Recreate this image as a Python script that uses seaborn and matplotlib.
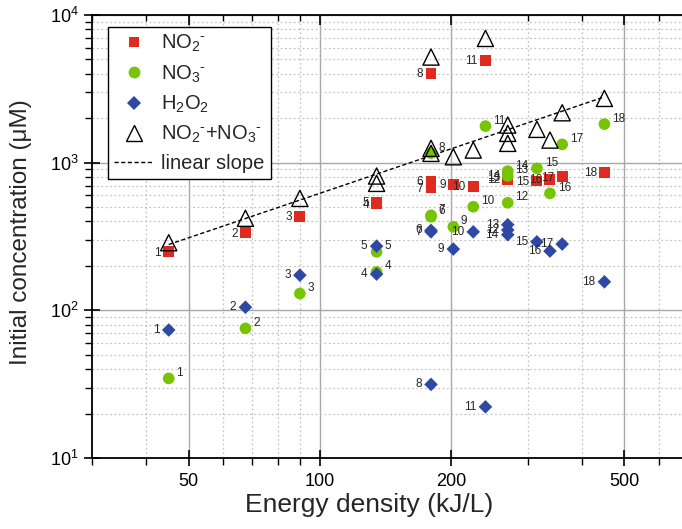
import numpy as np
import pandas as pd
import matplotlib
matplotlib.use("Agg")
import matplotlib.pyplot as plt
import matplotlib.ticker as mticker
from matplotlib.lines import Line2D
import seaborn as sns

# ---------------- data ----------------
sample_id = list(range(1, 19))
energy = [45, 67.5, 90, 135, 135, 180, 180, 180, 202.5, 225, 240, 270, 270, 270, 315, 337.5, 360, 450]
no2 = [249, 335, 435, 525, 540, 747, 680, 4040, 713, 694, 4950, 774, 800, 824, 751, 771, 803, 860]
no3 = [34.6, 75.5, 130, 182, 249, 430, 440, 1160, 368, 503, 1769, 535, 812, 877, 915, 620, 1330, 1825]
h2o2 = [73.6, 105, 173, 176, 272, 348, 340, 31.5, 260, 340, 22.2, 350, 380, 325, 291, 252, 281, 156]
total = [287, 420, 573, 724, 812, 1250, 1156, 5190, 1096, 1217, 6940, 1351, 1579, 1797, 1681, 1422, 2177, 2724]
slope_k = 6.2  # linear slope y = k * x

series_names = [r"NO$_2{}^{\text{-}}$", r"NO$_3{}^{\text{-}}$", r"H$_2$O$_2$",
                r"NO$_2{}^{\text{-}}$+NO$_3{}^{\text{-}}$"]
slope_name = "linear slope"

df = pd.DataFrame({"id": sample_id, "energy": energy, "no2": no2, "no3": no3,
                   "h2o2": h2o2, "total": total})

# ---------------- style ----------------
sns.set_theme(style="ticks")
plt.rcParams["font.family"] = ["Liberation Sans", "DejaVu Sans"]
plt.rcParams["mathtext.fontset"] = "custom"
plt.rcParams["mathtext.rm"] = "Liberation Sans"
plt.rcParams["mathtext.it"] = "Liberation Sans:italic"
plt.rcParams["mathtext.bf"] = "Liberation Sans:bold"
plt.rcParams["axes.linewidth"] = 1.2

RED = "#de2a1f"
GREEN = "#76c402"
BLUE = "#2e48a4"

fig = plt.figure(figsize=(6.82, 5.29), dpi=100)
ax = fig.add_axes([92 / 682, 71 / 529, 596 / 682, 443 / 529])
ax.set_xscale("log")
ax.set_yscale("log")

# slope line
xs = np.array([min(energy), max(energy)])
sns.lineplot(x=xs, y=slope_k * xs, ax=ax, color="black", lw=1.0,
             dashes=False, zorder=2, legend=False)
ax.lines[-1].set_dashes((3, 1.8))

sns.scatterplot(data=df, x="energy", y="no2", ax=ax, marker="s", color=RED,
                s=62, edgecolor="none", zorder=3, legend=False)
sns.scatterplot(data=df, x="energy", y="no3", ax=ax, marker="o", color=GREEN,
                s=70, edgecolor="none", zorder=4, legend=False)
sns.scatterplot(data=df, x="energy", y="h2o2", ax=ax, marker="D", color=BLUE,
                s=48, edgecolor="none", zorder=5, legend=False)
sns.scatterplot(data=df, x="energy", y="total", ax=ax, marker="^", color="black",
                s=135, linewidth=1.0, zorder=6, legend=False)
tri = ax.collections[-1]
tri.set_facecolor("none")
tri.set_edgecolor("black")

# point labels
for i, x in zip(sample_id, energy):
    r = df.loc[df.id == i].iloc[0]
    ax.annotate(str(i), (x, r.no2), xytext=(-5.5, -0.8), textcoords="offset points",
                ha="right", va="center", fontsize=8.5, zorder=7)
    ax.annotate(str(i), (x, r.no3), xytext=(5.5, 4.0), textcoords="offset points",
                ha="left", va="center", fontsize=8.5, zorder=7)
    ax.annotate(str(i), (x, r.h2o2), xytext=(-6.5, 0), textcoords="offset points",
                ha="right", va="center", fontsize=8.5, zorder=7)

# axes limits / ticks
ax.set_xlim(30, 700)
ax.set_ylim(10, 1e4)
ax.xaxis.set_major_locator(mticker.FixedLocator([50, 100, 200, 500]))
ax.xaxis.set_major_formatter(mticker.FixedFormatter(["50", "100", "200", "500"]))
ax.xaxis.set_minor_locator(mticker.FixedLocator([30, 40, 60, 70, 80, 90, 300, 400, 600, 700]))
ax.xaxis.set_minor_formatter(mticker.NullFormatter())
ax.yaxis.set_major_locator(mticker.LogLocator(base=10, numticks=10))
ax.yaxis.set_minor_locator(mticker.LogLocator(base=10, subs=np.arange(2, 10), numticks=20))
ax.yaxis.set_minor_formatter(mticker.NullFormatter())

ax.tick_params(which="major", direction="inout", length=11, width=1.2, labelsize=13,
               color="black", labelcolor="black")
ax.tick_params(which="minor", direction="out", length=5, width=1.0, color="black")
ax.tick_params(axis="x", which="major", pad=5)
ax.tick_params(axis="y", which="major", pad=4)

ax.grid(which="major", color="#a8a8a8", lw=1.0, ls="-")
ax.grid(which="minor", color="#c4c4c4", lw=0.9, ls=(0, (1.5, 2.0)))
ax.set_axisbelow(True)

for s in ["left", "bottom", "top", "right"]:
    ax.spines[s].set_color("black")
    ax.spines[s].set_linewidth(1.3)

# top ticks (inward, no labels)
ax2 = ax.twiny()
ax2.set_xscale("log")
ax2.set_xlim(ax.get_xlim())
ax2.xaxis.set_major_locator(mticker.FixedLocator([50, 100, 200, 500]))
ax2.xaxis.set_minor_locator(mticker.FixedLocator([30, 40, 60, 70, 80, 90, 300, 400, 600, 700]))
ax2.xaxis.set_major_formatter(mticker.NullFormatter())
ax2.xaxis.set_minor_formatter(mticker.NullFormatter())
ax2.tick_params(which="major", direction="in", length=7, width=1.2, color="black")
ax2.tick_params(which="minor", direction="in", length=4, width=1.0, color="black")
for s in ax2.spines.values():
    s.set_visible(False)

ax.set_xlabel("Energy density (kJ/L)", fontsize=19)
ax.xaxis.set_label_coords((369 - 92) / 596, -0.078)
ax.set_ylabel("Initial concentration (μM)", fontsize=17.5)
ax.yaxis.set_label_coords(-0.10, (458 - 232) / 443)

handles = [
    Line2D([], [], ls="none", marker="s", color=RED, markersize=7.5, markeredgewidth=0),
    Line2D([], [], ls="none", marker="o", color=GREEN, markersize=8.5, markeredgewidth=0),
    Line2D([], [], ls="none", marker="D", color=BLUE, markersize=7, markeredgewidth=0),
    Line2D([], [], ls="none", marker="^", markerfacecolor="none", markeredgecolor="black",
           markersize=11, markeredgewidth=1.0),
    Line2D([], [], color="black", lw=1.0, dashes=(3, 1.8)),
]
leg = ax.legend(handles, series_names + [slope_name], loc="upper left",
                bbox_to_anchor=(0.027, 0.973), borderaxespad=0, frameon=True,
                fancybox=False, framealpha=1, edgecolor="black", fontsize=14.5,
                handlelength=2.0, handletextpad=0.35, labelspacing=0.45,
                borderpad=0.3)
leg.get_frame().set_linewidth(1.0)
leg.set_zorder(10)

fig.savefig("out.png", dpi=100)
